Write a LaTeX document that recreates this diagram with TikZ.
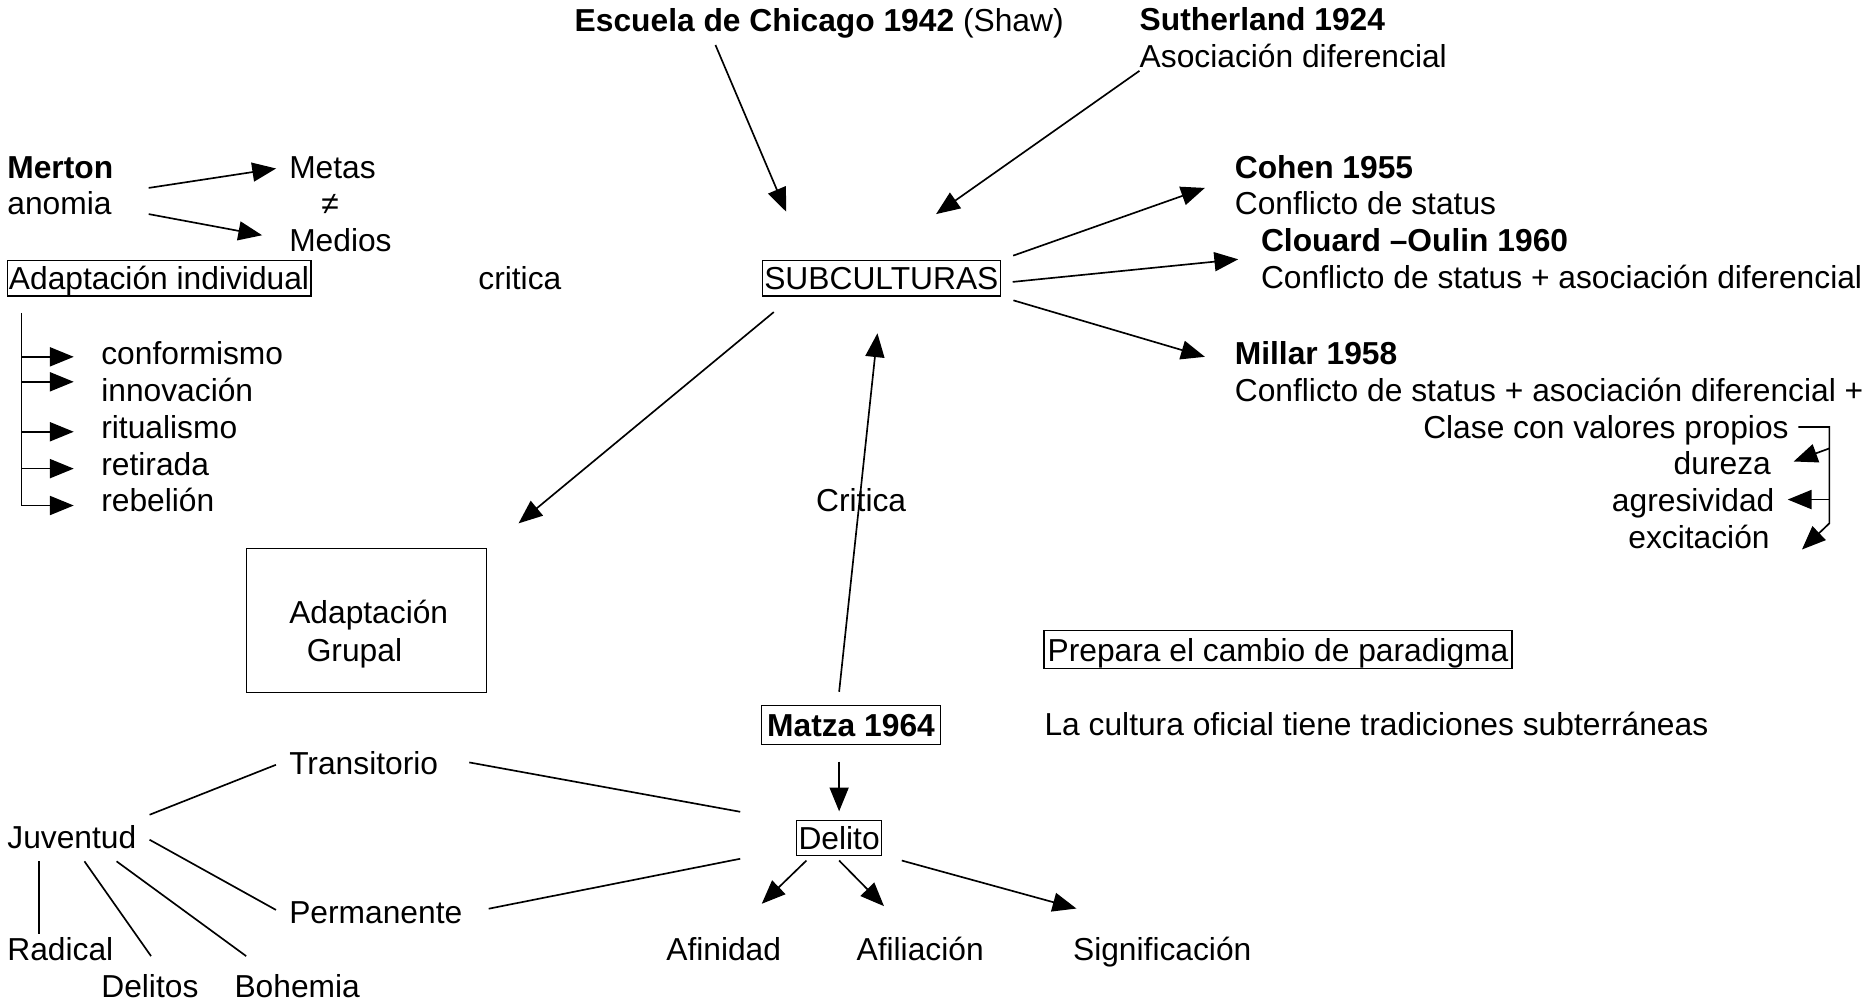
\documentclass[tikz,border=0pt]{standalone}
\usepackage{fontspec}
\setmainfont{Liberation Sans}
\usetikzlibrary{arrows.meta}
\begin{document}
\begin{tikzpicture}[x=1pt,y=-1pt,
  font=\fontsize{26.7pt}{32pt}\selectfont,
  txt/.style={inner sep=0pt, anchor=west, text height=22.1pt, text depth=2.6pt},
  txte/.style={txt, anchor=east},
  boxed/.style={draw, line width=1.1pt, inner xsep=1.5pt, inner ysep=2.5pt, text height=22.1pt, text depth=2.6pt},
  arr/.style={line width=1.4pt, -{Triangle[length=20pt,width=16pt]}},
  ln/.style={line width=1.4pt}]
\useasboundingbox (0,0) rectangle (1568,843);

% ---- nodes ----
\node[txt] (chicago) at (483,17) {\textbf{Escuela de Chicago 1942} (Shaw)};
\node[txt] (suth) at (958,16) {\textbf{Sutherland 1924}};
\node[txt] (suthb) at (958,47) {Asociación diferencial};
\node[txt] (merton) at (6,140) {\textbf{Merton}};
\node[txt] (anomia) at (6,171) {anomia};
\node[txt] (metas) at (243,140) {Metas};
\node[txt] (neq) at (270,171) {≠};
\node[txt] (medios) at (243,202) {Medios};
\node[boxed, anchor=west] (adind) at (5.5,234) {Adaptación individual};
\node[txt] (critica) at (402,234) {critica};
\node[boxed] (subc) at (741,234) {SUBCULTURAS};
\node[txt] (conf) at (85,297) {conformismo};
\node[txt] (innov) at (85,328) {innovación};
\node[txt] (ritual) at (85,359) {ritualismo};
\node[txt] (retir) at (85,390) {retirada};
\node[txt] (rebel) at (85,420) {rebelión};
\node[txt] (cohen) at (1038,140) {\textbf{Cohen 1955}};
\node[txt] (cohenb) at (1038,171) {Conflicto de status};
\node[txt] (clouard) at (1060,202) {\textbf{Clouard –Oulin 1960}};
\node[txt] (clouardb) at (1060,233) {Conflicto de status + asociación diferencial};
\node[txt] (millar) at (1038,297) {\textbf{Millar 1958}};
\node[txt] (millarb) at (1038,328) {Conflicto de status + asociación diferencial +};
\node[txte] (clase) at (1504,359) {Clase con valores propios};
\node[txte] (dureza) at (1489,389) {dureza};
\node[txte] (agres) at (1492,420) {agresividad};
\node[txte] (excit) at (1488,451) {excitación};
\node[txt] (criticab) at (686,420) {Critica};
\node[draw, line width=1.1pt, minimum width=202pt, minimum height=121pt, inner sep=0pt] (grupal) at (308,521.5) {};
\node[align=center, inner sep=0pt] (grupaltxt) at (310,533) {Adaptación\\Grupal\hspace*{24pt}};
\node[boxed, inner xsep=3pt, inner ysep=3.6pt] (prep) at (1074.5,546) {Prepara el cambio de paradigma};
\node[txt] (cultura) at (878,609) {La cultura oficial tiene tradiciones subterráneas};
\node[boxed, inner xsep=5pt, inner ysep=4pt] (matza) at (715.5,609.5) {\textbf{Matza 1964}};
\node[boxed] (delito) at (705.5,704.5) {Delito};
\node[txt] (afin) at (560,798) {Afinidad};
\node[txt] (afil) at (720,798) {Afiliación};
\node[txt] (signif) at (902,798) {Significación};
\node[txt] (juv) at (6,704) {Juventud};
\node[txt] (trans) at (243,641) {Transitorio};
\node[txt] (perm) at (243,767) {Permanente};
\node[txt] (radical) at (6,798) {Radical};
\node[txt] (delitos) at (85,829) {Delitos};
\node[txt] (bohemia) at (197,829) {Bohemia};

% ---- free ends ----
\coordinate (mA) at (125,158);
\coordinate (mB) at (125,180);
\coordinate (chTip) at (661,178);
\coordinate (suTip) at (787,180);
\coordinate (coTip) at (1013,158);
\coordinate (clTip) at (1041,218);
\coordinate (miTip) at (1013,300);
\coordinate (grTip) at (436,440);
\coordinate (brtop) at (18,263);
\coordinate (rb) at (1538,359);
\coordinate (rbb) at (1538,440);

% ---- Merton ----
\draw[arr, shorten >=11pt] (mA) -- (metas.west);
\draw[arr, shorten >=23pt] (mB) -- (medios.west);

% ---- left bracket ----
\draw[arr] (brtop) |- ([xshift=-23pt,yshift=-5pt]rebel.west);
\draw[arr] ([yshift=-3pt]conf.west -| brtop) -- ([xshift=-23pt,yshift=-3pt]conf.west);
\draw[arr] ([yshift=7pt]innov.west -| brtop) -- ([xshift=-23pt,yshift=7pt]innov.west);
\draw[arr] ([yshift=-4pt]ritual.west -| brtop) -- ([xshift=-23pt,yshift=-4pt]ritual.west);
\draw[arr] ([yshift=-4pt]retir.west -| brtop) -- ([xshift=-23pt,yshift=-4pt]retir.west);

% ---- into SUBCULTURAS ----
\draw[arr, shorten <=9pt] ([xshift=115pt]chicago.south west) -- (chTip);
\draw[arr] (suthb.south west) -- (suTip);
\draw[arr, shorten >=31pt] ([xshift=-10pt,yshift=11pt]matza.north) -- (subc.south);

% ---- out of SUBCULTURAS ----
\draw[arr, shorten <=11pt] (subc.north east) -- (coTip);
\draw[arr, shorten <=10pt] ([yshift=-4pt]subc.east) -- (clTip);
\draw[arr, shorten <=11pt] (subc.south east) -- (miTip);
\draw[arr] ([xshift=10pt,yshift=-13pt]subc.south west) -- (grTip);

% ---- right bracket ----
\draw[arr] ([xshift=8pt]clase.east) -- (rb) -- (rbb) -- ([xshift=27pt,yshift=-11pt]excit.east);
\draw[arr] ([yshift=-18pt]rb) -- ([xshift=19pt,yshift=1pt]dureza.east);
\draw[arr] (agres.east -| rb) -- ([xshift=11pt]agres.east);

% ---- Matza / Delito ----
\draw[arr, shorten <=14pt, shorten >=7pt] (delito.north |- matza.south) -- (delito.north);
\draw[ln] ([xshift=26pt]trans.east) -- ([xshift=-47pt,yshift=22pt]delito.west);
\draw[ln] ([xshift=22pt,yshift=3pt]perm.east) -- ([xshift=-47pt,yshift=-17.5pt]delito.west);
\draw[arr] ([xshift=-27.5pt,yshift=-3.6pt]delito.south) -- ([xshift=32pt,yshift=25.6pt]afin.north);
\draw[arr] ([yshift=-3.6pt]delito.south) -- ([xshift=-30.4pt,yshift=23.6pt]afil.north);
\draw[arr] ([xshift=16.5pt,yshift=-3.6pt]delito.south east) -- ([xshift=3pt,yshift=21.6pt]signif.north west);

% ---- Juventud ----
\draw[ln] ([xshift=11pt,yshift=19pt]juv.east) -- ([xshift=-11pt,yshift=-2pt]trans.west);
\draw[ln] ([xshift=11pt,yshift=-2pt]juv.east) -- ([xshift=-11pt,yshift=2pt]perm.west);
\draw[ln] ([xshift=27pt,yshift=-7.6pt]juv.south west) -- ([xshift=27pt]radical.north west);
\draw[ln] ([xshift=65pt,yshift=-7.6pt]juv.south west) -- ([xshift=42pt,yshift=12.6pt]delitos.north west);
\draw[ln] ([xshift=92pt,yshift=-7.6pt]juv.south west) -- ([xshift=10pt,yshift=12.6pt]bohemia.north west);
\end{tikzpicture}
\end{document}
